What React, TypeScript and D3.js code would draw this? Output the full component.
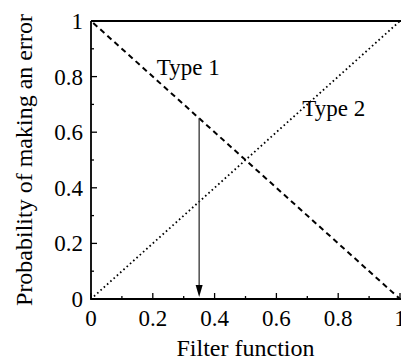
import React from "react";
import * as d3 from "d3";

// Error probabilities as a function of the filter value
const filterValues = [0, 1];
const type1Error = [1, 0];
const type2Error = [0, 1];
const threshold = 0.35;

const majorTicks = [0, 0.2, 0.4, 0.6, 0.8, 1];
const minorTicks = [0.1, 0.3, 0.5, 0.7, 0.9];
const tickLabels = ["0", "0.2", "0.4", "0.6", "0.8", "1"];

const seriesLabels = ["Type 1", "Type 2"];
const labelAnchors = [
  [0.213, 0.805],
  [0.684, 0.66],
];

const W = 401;
const H = 361;
const left = 91;
const right = 400;
const top = 21;
const bottom = 299;
const font = "'Liberation Serif', 'Times New Roman', serif";

export default function App() {
  const x = d3.scaleLinear().domain([0, 1]).range([left, right]);
  const y = d3.scaleLinear().domain([0, 1]).range([bottom, top]);

  const line = d3
    .line<number>()
    .x((_, i) => x(filterValues[i]))
    .y((d) => y(d));

  const arrowTop = y(1 - threshold);
  const arrowTip = y(0) - 2;
  const ax = x(threshold);

  return (
    <svg
      width={W}
      height={H}
      style={{ position: "absolute", left: 0, top: 0, background: "#fff" }}
    >
      {/* frame: left, top and bottom edges */}
      <path
        d={`M${left},${top} L${W},${top} M${left},${top} L${left},${bottom} L${W},${bottom}`}
        fill="none"
        stroke="#000"
        strokeWidth={1.8}
      />
      {/* y ticks */}
      {majorTicks.map((t) => (
        <line key={"ym" + t} x1={left} x2={left + 6} y1={y(t)} y2={y(t)} stroke="#000" strokeWidth={1.3} />
      ))}
      {minorTicks.map((t) => (
        <line key={"yn" + t} x1={left} x2={left + 3} y1={y(t)} y2={y(t)} stroke="#000" strokeWidth={1.3} />
      ))}
      {/* x ticks */}
      {majorTicks.map((t) => (
        <line key={"xm" + t} x1={x(t)} x2={x(t)} y1={bottom} y2={bottom - 6} stroke="#000" strokeWidth={1.3} />
      ))}
      {minorTicks.map((t) => (
        <line key={"xn" + t} x1={x(t)} x2={x(t)} y1={bottom} y2={bottom - 3} stroke="#000" strokeWidth={1.3} />
      ))}
      {/* tick labels */}
      {majorTicks.map((t, i) => (
        <text
          key={"yl" + t}
          x={left - 8}
          y={y(t)}
          dy="0.35em"
          textAnchor="end"
          fontFamily={font}
          fontSize={23}
        >
          {tickLabels[i]}
        </text>
      ))}
      {majorTicks.map((t, i) => (
        <text
          key={"xl" + t}
          x={x(t)}
          y={326}
          textAnchor="middle"
          fontFamily={font}
          fontSize={23}
        >
          {tickLabels[i]}
        </text>
      ))}
      {/* series */}
      <path
        d={line(type1Error) || ""}
        fill="none"
        stroke="#000"
        strokeWidth={2}
        strokeDasharray="5.5 4"
        strokeDashoffset={-3}
      />
      <path
        d={line(type2Error) || ""}
        fill="none"
        stroke="#000"
        strokeWidth={1.8}
        strokeDasharray="1.6 2.8"
        strokeDashoffset={-4}
      />
      {/* threshold arrow */}
      <line x1={ax} x2={ax} y1={arrowTop} y2={arrowTip - 10} stroke="#333" strokeWidth={1.3} />
      <path
        d={`M${ax - 3.5},${arrowTip - 12} L${ax + 3.5},${arrowTip - 12} L${ax},${arrowTip} Z`}
        fill="#000"
      />
      {/* series labels */}
      {seriesLabels.map((s, i) => (
        <text
          key={s}
          x={x(labelAnchors[i][0])}
          y={y(labelAnchors[i][1])}
          fontFamily={font}
          fontSize={23}
        >
          {s}
        </text>
      ))}
      {/* axis titles */}
      <text
        x={(left + right) / 2}
        y={356}
        textAnchor="middle"
        fontFamily={font}
        fontSize={24}
      >
        Filter function
      </text>
      <text
        transform={`translate(32,${(top + bottom) / 2}) rotate(-90)`}
        textAnchor="middle"
        fontFamily={font}
        fontSize={24}
      >
        Probability of making an error
      </text>
    </svg>
  );
}
